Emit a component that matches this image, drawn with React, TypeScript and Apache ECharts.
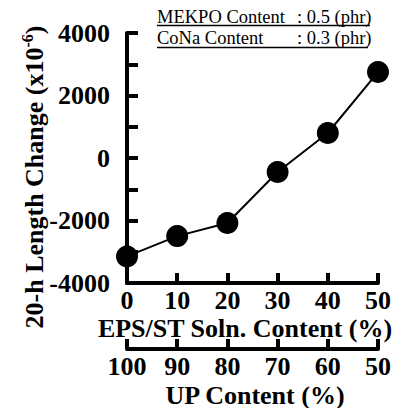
import React, { useEffect, useRef } from "react";
import * as echarts from "echarts";

const epsContent = [0, 10, 20, 30, 40, 50];
const lengthChange = [-3150, -2500, -2080, -450, 800, 2750];
const upTicks = [100, 90, 80, 70, 60, 50];
const headerLabels = ["MEKPO Content", "CoNa Content"];
const headerValues = [": 0.5 (phr)", ": 0.3 (phr)"];
const xTitle = "EPS/ST Soln. Content (%)";
const x2Title = "UP Content (%)";

const FONT = "Liberation Serif";

export default function App() {
  const ref = useRef<HTMLDivElement>(null);
  useEffect(() => {
    if (!ref.current) return;
    const chart = echarts.init(ref.current, null, { renderer: "svg" });
    const axisLine = { show: true, onZero: false, lineStyle: { color: "#000", width: 4 } };
    const labelStyle = { color: "#000", fontSize: 26, fontWeight: "bold" as const, fontFamily: FONT };
    const bold26 = { fontSize: 26, fontWeight: "bold" as const, fontFamily: FONT, fill: "#000" };
    chart.setOption({
      animation: false,
      backgroundColor: "#fff",
      grid: { left: 127, right: 20, top: 33, bottom: 125, containLabel: false },
      xAxis: [
        {
          type: "value",
          min: 0,
          max: 50,
          interval: 10,
          position: "bottom",
          axisLine,
          axisTick: { show: true, inside: true, length: 10, lineStyle: { color: "#000", width: 4 } },
          axisLabel: { ...labelStyle, margin: 7, lineHeight: 20 },
          splitLine: { show: false },
        },
        {
          type: "value",
          min: Math.min(...upTicks),
          max: Math.max(...upTicks),
          interval: 10,
          inverse: true,
          position: "bottom",
          offset: 66,
          axisLine,
          axisTick: { show: true, inside: true, length: 10, lineStyle: { color: "#000", width: 4 } },
          axisLabel: { ...labelStyle, margin: 7, lineHeight: 20 },
          splitLine: { show: false },
        },
      ],
      yAxis: {
        type: "value",
        min: -4000,
        max: 4000,
        interval: 1000,
        axisLine,
        axisTick: { show: true, inside: true, length: 11, lineStyle: { color: "#000", width: 4 } },
        axisLabel: {
          ...labelStyle,
          margin: 17,
          formatter: (v: number) => (v % 2000 === 0 ? String(v) : ""),
        },
        splitLine: { show: false },
      },
      series: [
        {
          type: "line",
          xAxisIndex: 0,
          data: epsContent.map((x, i) => [x, lengthChange[i]]),
          symbol: "circle",
          symbolSize: 22,
          lineStyle: { color: "#000", width: 2 },
          itemStyle: { color: "#000" },
        },
      ],
      graphic: [
        {
          type: "text",
          x: 34,
          y: 177,
          rotation: Math.PI / 2,
          style: {
            text: "20-h Length Change (x10{sup|-6})",
            align: "center",
            verticalAlign: "middle",
            ...bold26,
            lineHeight: 30,
            rich: {
              sup: { fontSize: 16, fontWeight: "bold", fontFamily: FONT, verticalAlign: "top", lineHeight: 16, fill: "#000" },
            },
          },
        },
        {
          type: "text",
          x: 245,
          y: 328,
          style: { text: xTitle, align: "center", verticalAlign: "middle", ...bold26, lineHeight: 20 },
        },
        {
          type: "text",
          x: 255,
          y: 395,
          style: { text: x2Title, align: "center", verticalAlign: "middle", ...bold26, lineHeight: 20 },
        },
        ...headerLabels.flatMap((lab, i) => [
          {
            type: "text",
            x: 157,
            y: 17 + i * 21,
            style: { text: lab, align: "left", verticalAlign: "middle", fontSize: 18.5, fontFamily: FONT, fill: "#000" },
          },
          {
            type: "text",
            x: 297,
            y: 17 + i * 21,
            style: { text: headerValues[i], align: "left", verticalAlign: "middle", fontSize: 18.5, fontFamily: FONT, fill: "#000" },
          },
          {
            type: "line",
            shape: { x1: 157, y1: 25.5 + i * 22, x2: 370 - i * 2, y2: 25.5 + i * 22 },
            style: { stroke: "#000", lineWidth: 1.5 },
          },
        ]),
      ],
    });
    return () => chart.dispose();
  }, []);
  return <div ref={ref} style={{ position: "fixed", left: 0, top: 0, width: 398, height: 408 }} />;
}
